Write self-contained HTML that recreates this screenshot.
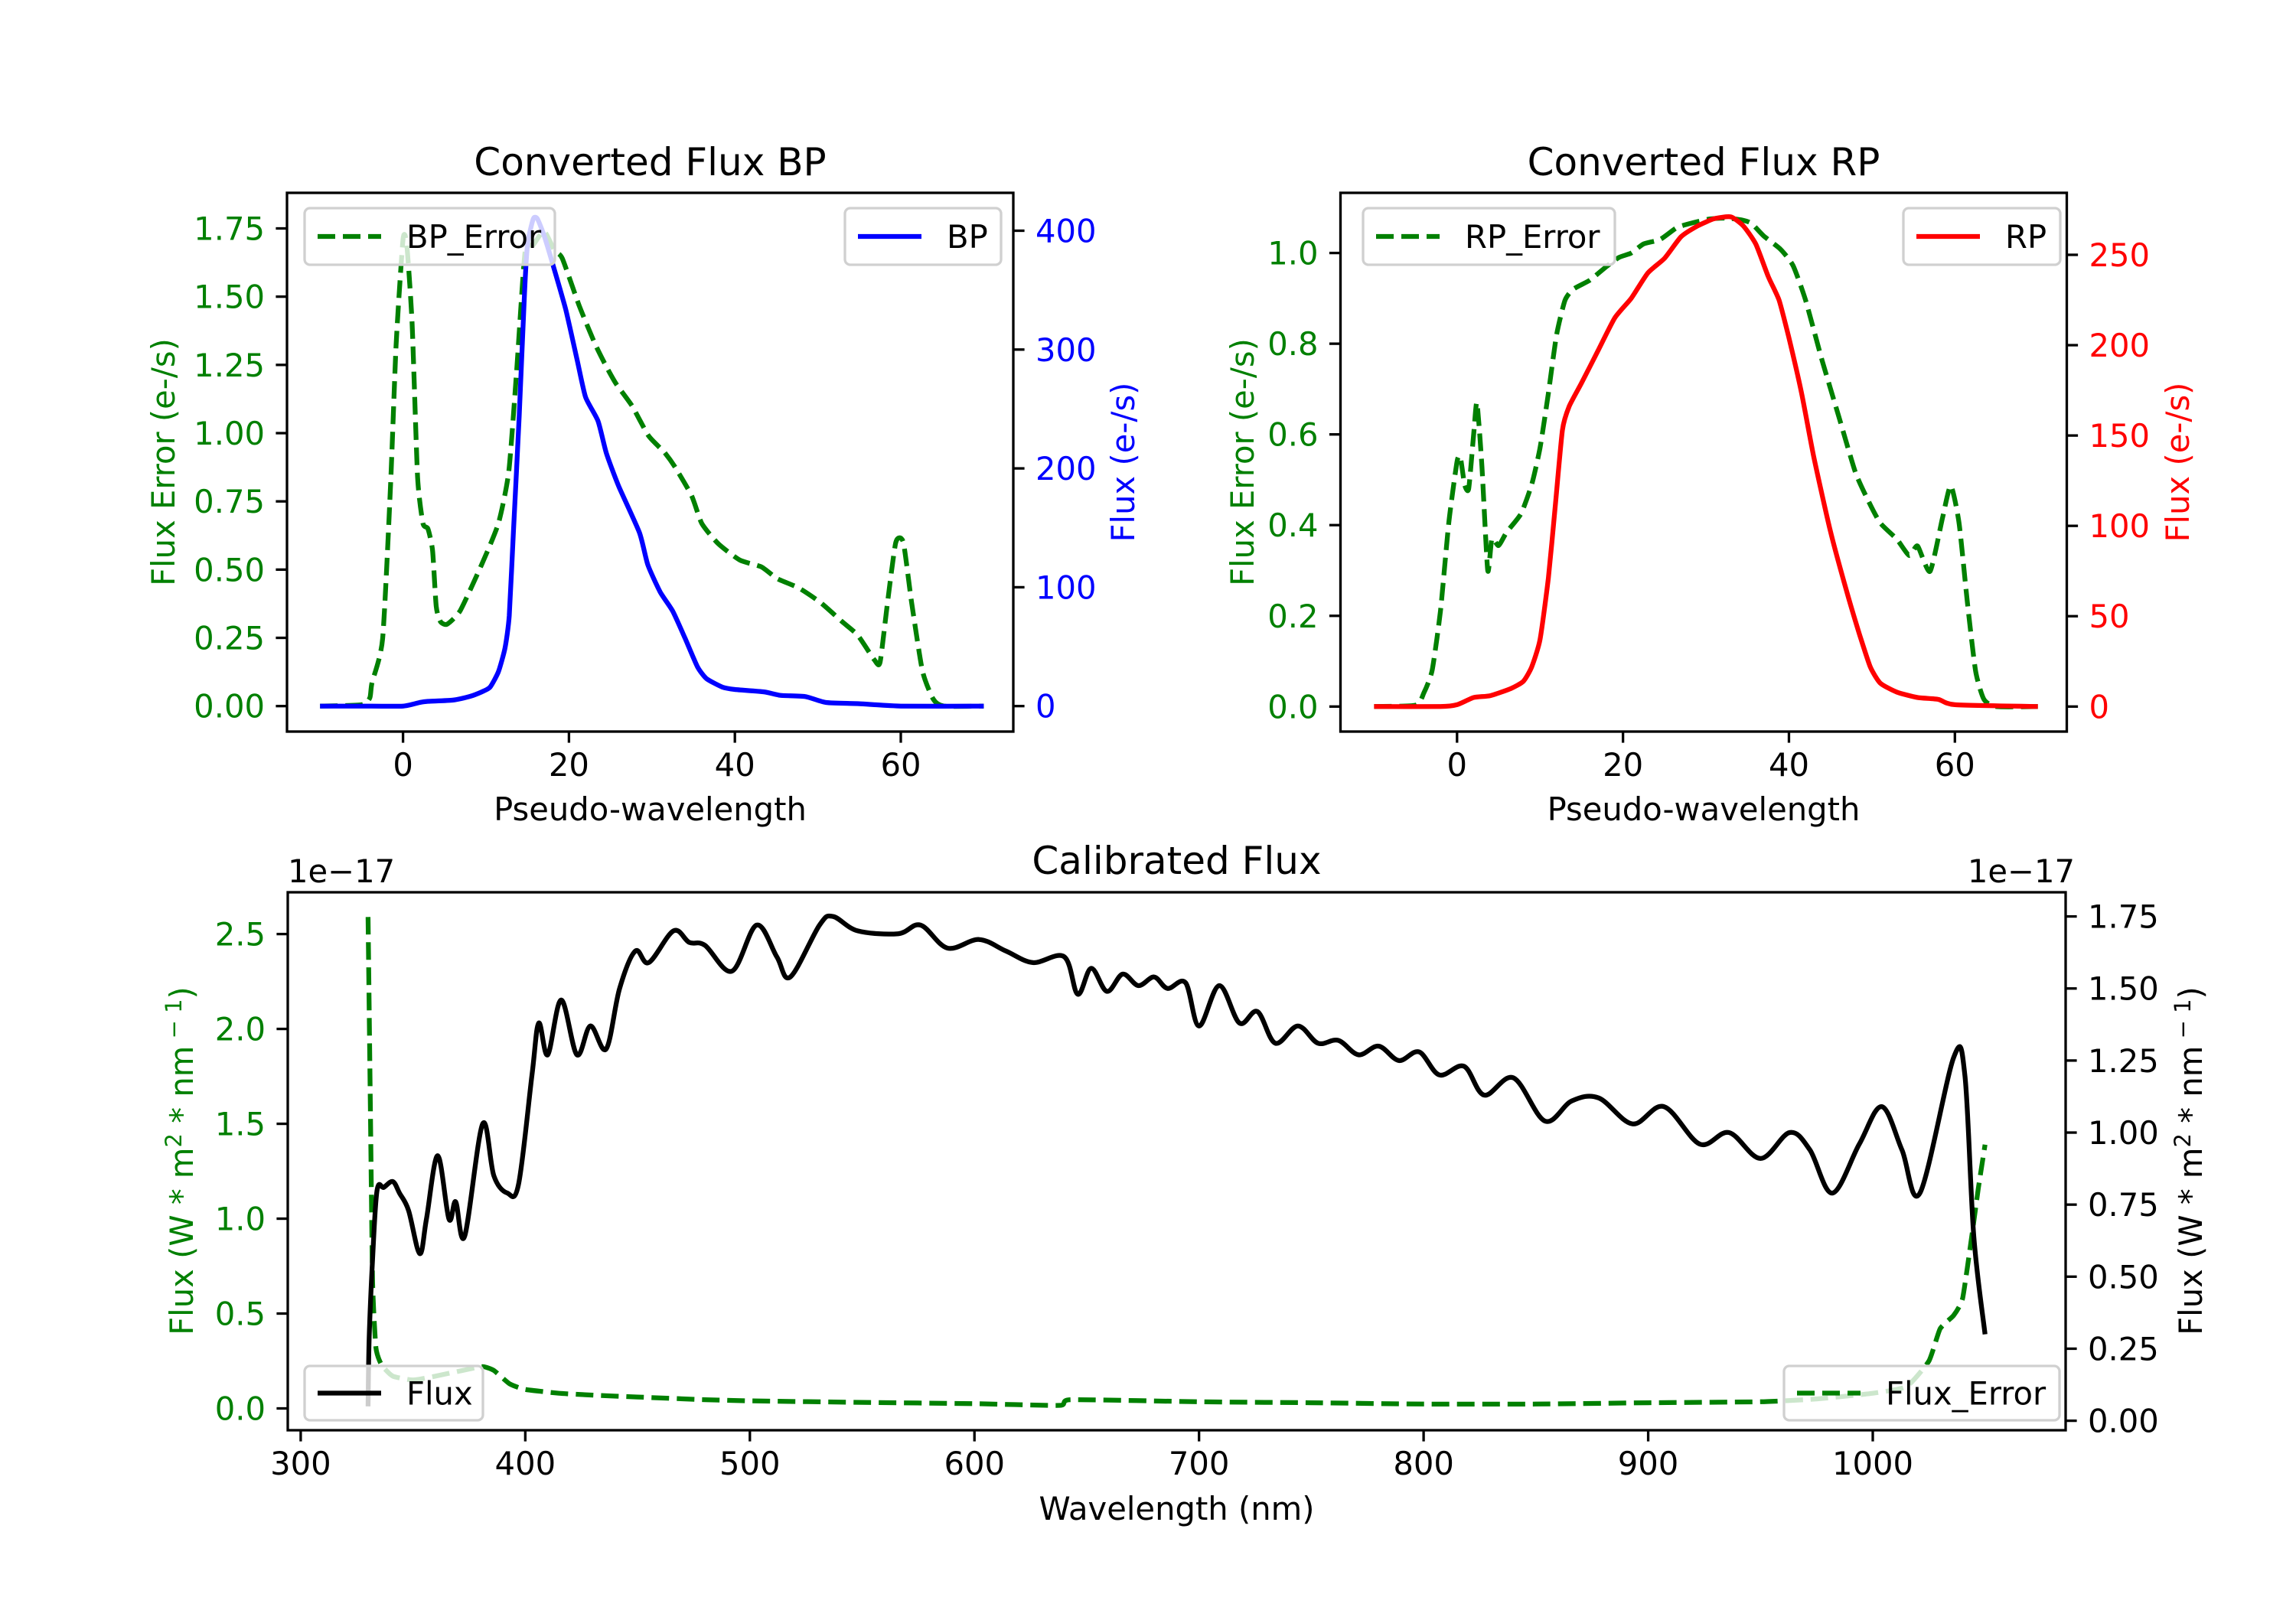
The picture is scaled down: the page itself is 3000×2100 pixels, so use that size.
<!DOCTYPE html>
<html><head><meta charset="utf-8"><style>
html,body{margin:0;padding:0;background:#fff}
svg{display:block;font-family:"DejaVu Sans","Liberation Sans",sans-serif}
</style></head><body>
<svg id="fig" width="3000" height="2100" viewBox="0 0 3000 2100" xmlns="http://www.w3.org/2000/svg">
<rect width="3000" height="2100" fill="#fff"/>
<g id="bp"></g>
<g id="rp"></g>
<g id="cal"></g>
</svg>
<script>
// ---- BP data ----
const bpErrX = [-10,-5,-4,-3.75,-2.46,-1.5,-0.84,0,0.45,1.1,1.75,2.4,3.0,3.56,4,4.5,5.3,6.9,9.5,11.5,12.75,13.7,14.7,15.7,17,18.25,19.2,21.2,23.1,24.4,25.7,27.6,29.6,31.5,32.8,34.8,36,38,40.6,43.2,45.1,47.7,50.3,52.9,54.8,56.8,57.5,58.4,59.4,60.3,61.3,62.6,63.9,65.2,70];
const bpErrY = [0,0.005,0.03,0.085,0.246,0.81,1.32,1.71,1.69,1.40,0.84,0.67,0.65,0.57,0.365,0.31,0.30,0.35,0.52,0.67,0.86,1.23,1.66,1.69,1.74,1.67,1.64,1.47,1.33,1.25,1.18,1.10,0.99,0.93,0.875,0.77,0.67,0.595,0.535,0.51,0.467,0.433,0.38,0.31,0.26,0.17,0.16,0.38,0.60,0.60,0.38,0.13,0.026,0,0];
const bpX = [-10,-5,0,2,3,6,8,9.5,10.5,11.5,12.3,12.8,13.3,14,14.6,15,15.7,16.2,17,18,19.6,21,22,23.5,24.5,26,28.5,29.5,31,32.5,34,35.5,36.6,38.5,40,43.5,45.5,48.5,51,55,60,70];
const bpY = [0,0,0,3,4,5,8,12,16,29,49,76,146,244,341,388,410,410,396,373,334,291,260,240,213,185,146,119,96,80,57,33,23,16,14,12,9,8,3,2,0,0];
// ---- RP data ----
const rpErrX = [-10,-5,-4,-3,-2,-1,0,0.4,0.9,1.4,2,2.4,3,3.7,4.2,5,6,7.7,9,10,11,12,13,14,16,18,19.5,21,22.5,24.5,26.5,28.5,30.5,32.5,34.5,35.5,37,39,40.5,42,44,46,48,49.5,51,53,54.5,55.5,57,58.5,59.5,60.5,61.5,62.5,63.5,65,70];
const rpErrY = [0,0.003,0.03,0.08,0.21,0.405,0.54,0.55,0.49,0.48,0.60,0.67,0.53,0.30,0.37,0.355,0.385,0.425,0.49,0.57,0.69,0.82,0.895,0.92,0.94,0.97,0.99,1.0,1.02,1.03,1.056,1.067,1.075,1.077,1.072,1.065,1.037,1.008,0.972,0.896,0.763,0.64,0.517,0.456,0.405,0.369,0.333,0.354,0.298,0.415,0.487,0.405,0.23,0.078,0.016,0,0];
const rpX = [-10,-2,0,2,4,6.5,8,9,10,11,11.8,12.7,13.5,15,17,19,21,23,25,27,29,31,33,34.5,36,37.5,38.8,40,41.5,43,45,47,48.5,49.8,51,53,55.5,58,60,70];
const rpY = [0,0,1,5,6,10,14,22,37,71,109,153,166,179,197,215,226,240,248,260,266,270,271,266,256,238,225,204,174,138,97,63,40,22,13,8,5,4,1,0];
// ---- Calibrated data (x1e-17) ----
const flX = [330,330.5,332,334,337,341,344,348,353,356,361,366,369,373,381,386,392,397,403,406,410,416,423,429,436,442,449,455,466,473,480,492,503,512,518,531,537,548,566,576,588,602,614,626,640,646,652,659,666,673,680,686,694,700,709,718,726,734,744,753,762,771,780,789,798,807,818,827,840,854,866,878,893,907,923,936,950,963,972,982,994,1004,1013,1021,1036,1041,1045,1050];
const flY = [0.05,0.29,0.56,0.80,0.81,0.83,0.79,0.73,0.58,0.70,0.92,0.70,0.76,0.64,1.03,0.85,0.79,0.82,1.20,1.38,1.27,1.46,1.27,1.37,1.29,1.50,1.63,1.59,1.70,1.66,1.65,1.56,1.72,1.61,1.54,1.72,1.75,1.70,1.69,1.72,1.64,1.67,1.63,1.59,1.61,1.48,1.57,1.49,1.55,1.51,1.54,1.50,1.52,1.37,1.51,1.38,1.42,1.31,1.37,1.31,1.32,1.27,1.30,1.25,1.28,1.20,1.23,1.13,1.19,1.04,1.11,1.12,1.03,1.09,0.96,1.00,0.91,1.00,0.94,0.79,0.96,1.09,0.94,0.79,1.26,1.20,0.64,0.30];
const feX = [330,331,332,333.5,336,341,350,360,372,381,386,393,400,415,430,450,480,500,550,600,638,643,700,750,800,850,900,950,975,1000,1015,1025,1030,1036,1040,1044,1047,1050];
const feY = [2.59,1.60,0.67,0.32,0.23,0.17,0.15,0.17,0.20,0.22,0.20,0.13,0.10,0.08,0.07,0.06,0.046,0.04,0.032,0.025,0.016,0.046,0.035,0.03,0.023,0.023,0.03,0.035,0.05,0.08,0.115,0.25,0.42,0.49,0.58,0.90,1.16,1.39];
// ---- tick labels ----
const pwTicks = [0,20,40,60];
const bpErrTicks = ["0.00","0.25","0.50","0.75","1.00","1.25","1.50","1.75"];
const bpTicks = [0,100,200,300,400];
const rpErrTicks = ["0.0","0.2","0.4","0.6","0.8","1.0"];
const rpTicks = [0,50,100,150,200,250];
const wlTicks = [300,400,500,600,700,800,900,1000];
const feTicks = ["0.0","0.5","1.0","1.5","2.0","2.5"];
const flTicks = ["0.00","0.25","0.50","0.75","1.00","1.25","1.50","1.75"];

const NS="http://www.w3.org/2000/svg";
function mk(parent,tag,attrs,text){const e=document.createElementNS(NS,tag);for(const k in attrs)e.setAttribute(k,attrs[k]);if(text!==undefined)e.textContent=text;parent.appendChild(e);return e;}
function lin(d0,d1,p0,p1){return v=>p0+(v-d0)*(p1-p0)/(d1-d0);}
const FS=41.7, TL=14.6, LW=6.25;
function pathD(xs,ys,sx,sy,smooth){
  const P=xs.map((x,i)=>[sx(x),sy(ys[i])]);
  let d='M'+P[0][0].toFixed(1)+','+P[0][1].toFixed(1);
  for(let i=0;i<P.length-1;i++){
    const p0=P[Math.max(0,i-1)],p1=P[i],p2=P[i+1],p3=P[Math.min(P.length-1,i+2)];
    if(!smooth){d+='L'+p2[0].toFixed(1)+','+p2[1].toFixed(1);continue;}
    const k=smooth/6;
    const c1=[p1[0]+(p2[0]-p0[0])*k,p1[1]+(p2[1]-p0[1])*k];
    const c2=[p2[0]-(p3[0]-p1[0])*k,p2[1]-(p3[1]-p1[1])*k];
    d+='C'+c1[0].toFixed(1)+','+c1[1].toFixed(1)+' '+c2[0].toFixed(1)+','+c2[1].toFixed(1)+' '+p2[0].toFixed(1)+','+p2[1].toFixed(1);
  }
  return d;
}

function frame(g,L,R,T,B){
  const r=mk(g,'rect',{x:L,y:T,width:R-L,height:B-T,fill:'none',stroke:'#000','stroke-width':3.3});
  
  
}
function xTicks(g,vals,labels,sx,B,base){
  vals.forEach((v,i)=>{
    const x=sx(v);
    const t=mk(g,'line',{x1:x,x2:x,y1:B,y2:B+TL,stroke:'#000','stroke-width':3.3});
    
    
    const l=mk(g,'text',{x:x,y:base,'font-size':FS,'text-anchor':'middle',fill:'#000'},labels[i]);
    
    
  });
}
function yTicks(g,labels,sy,X,side,color){
  labels.forEach(lab=>{
    const y=sy(parseFloat(lab));
    const x2=side<0?X-TL:X+TL;
    const t=mk(g,'line',{x1:X,x2:x2,y1:y,y2:y,stroke:'#000','stroke-width':3.3});
    
    
    const l=mk(g,'text',{x:side<0?X-29:X+29,y:y+15,'font-size':FS,'text-anchor':side<0?'end':'start',fill:color},String(lab));
    
    
  });
}
function series(g,xs,ys,sx,sy,color,dashed,name,smooth){
  const a={d:pathD(xs,ys,sx,sy,smooth),fill:'none',stroke:color,'stroke-width':LW,'stroke-linejoin':'round'};
  if(dashed)a['stroke-dasharray']='23,10';
  const p=mk(g,'path',a);
  
  
}
function legend(g,x0,x1,y0,y1,color,dashed,label,name){
  const r=mk(g,'rect',{x:x0,y:y0,width:x1-x0,height:y1-y0,rx:7,fill:'#fff','fill-opacity':0.8,stroke:'#d0d0d0','stroke-width':3.3});
  
  
  const ym=(y0+y1)/2;
  const a={x1:x0+17,x2:x0+100,y1:ym,y2:ym,stroke:color,'stroke-width':LW};
  if(dashed)a['stroke-dasharray']='23,10';
  const l=mk(g,'line',a);
  
  
  const t=mk(g,'text',{x:x0+133,y:ym+15,'font-size':FS,fill:'#000'},label);
  
  
}
function txt(g,x,y,s,attrs,name){
  const a=Object.assign({x:x,y:y,'font-size':FS,'text-anchor':'middle',fill:'#000'},attrs||{});
  const t=mk(g,'text',a,s);
  
  
  return t;
}
function rotLabel(g,x,y,s,color,name){
  return txt(g,0,0,s,{fill:color,transform:`translate(${x},${y}) rotate(-90)`},name);
}

// ---- BP panel ----
(function(){
  const g=document.getElementById('bp');
  const L=375,R=1324,T=252,B=956;
  const sx=lin(0,60,526.6,1177);
  const syL=lin(0,1.75,922.7,298.5);
  const syR=lin(0,400,922.7,301.5);
  series(g,bpErrX,bpErrY,sx,syL,'#008000',true,'bp-error-line',0.6);
  series(g,bpX,bpY,sx,syR,'#0000ff',false,'bp-line',0.6);
  frame(g,L,R,T,B);
  xTicks(g,pwTicks,pwTicks.map(String),sx,B,1014);
  yTicks(g,bpErrTicks,syL,L,-1,'#008000');
  yTicks(g,bpTicks.map(String),syR,R,1,'#0000ff');
  legend(g,398,725,272,346,'#008000',true,'BP_Error','bp-error-legend');
  legend(g,1104,1308,272,346,'#0000ff',false,'BP','bp-legend');
  txt(g,(L+R)/2,229,'Converted Flux BP',{'font-size':50},'bp-title');
  txt(g,(L+R)/2,1072,'Pseudo-wavelength',{},'bp-x-axis-title');
  rotLabel(g,228,604,'Flux Error (e-/s)','#008000','bp-left-y-axis-title');
  rotLabel(g,1482,604,'Flux (e-/s)','#0000ff','bp-right-y-axis-title');
})();

// ---- RP panel ----
(function(){
  const g=document.getElementById('rp');
  const L=1751.5,R=2700.5,T=252,B=956;
  const sx=lin(0,60,1903.8,2554.3);
  const syL=lin(0,1.0,923.3,330.6);
  const syR=lin(0,250,923.3,333);
  series(g,rpErrX,rpErrY,sx,syL,'#008000',true,'rp-error-line',0.6);
  series(g,rpX,rpY,sx,syR,'#ff0000',false,'rp-line',0.6);
  frame(g,L,R,T,B);
  xTicks(g,pwTicks,pwTicks.map(String),sx,B,1014);
  yTicks(g,rpErrTicks,syL,L,-1,'#008000');
  yTicks(g,rpTicks.map(String),syR,R,1,'#ff0000');
  legend(g,1781,2110,272,346,'#008000',true,'RP_Error','rp-error-legend');
  legend(g,2487,2692,272,346,'#ff0000',false,'RP','rp-legend');
  txt(g,(L+R)/2,229,'Converted Flux RP',{'font-size':50},'rp-title');
  txt(g,(L+R)/2,1072,'Pseudo-wavelength',{},'rp-x-axis-title');
  rotLabel(g,1638,604,'Flux Error (e-/s)','#008000','rp-left-y-axis-title');
  rotLabel(g,2860,604,'Flux (e-/s)','#ff0000','rp-right-y-axis-title');
})();

// ---- Calibrated panel ----
(function(){
  const g=document.getElementById('cal');
  const L=376,R=2699,T=1166,B=1869;
  const sx=lin(300,1000,392.9,2447);
  const syL=lin(0,2.5,1840.5,1220.6);
  const syR=lin(0,1.75,1856.6,1197.6);
  series(g,feX,feY,sx,syL,'#008000',true,'flux-error-line',0.5);
  series(g,flX,flY,sx,syR,'#000000',false,'flux-line',1);
  frame(g,L,R,T,B);
  xTicks(g,wlTicks,wlTicks.map(String),sx,B,1927);
  yTicks(g,feTicks,syL,L,-1,'#008000');
  yTicks(g,flTicks,syR,R,1,'#000000');
  legend(g,398,631,1785,1856,'#000000',false,'Flux','flux-legend');
  legend(g,2331,2691,1785,1856,'#008000',true,'Flux_Error','flux-error-legend');
  txt(g,(L+R)/2,1142,'Calibrated Flux',{'font-size':50},'cal-title');
  txt(g,(L+R)/2,1986,'Wavelength (nm)',{},'cal-x-axis-title');
  txt(g,L,1153,'1e\u221217',{'text-anchor':'start'},'left-offset-text');
  txt(g,2711,1153,'1e\u221217',{'text-anchor':'end'},'right-offset-text');
  const t1=rotLabel(g,252,1517,'','#008000','cal-left-y-axis-title');
  const t2=rotLabel(g,2877,1517,'','#000000','cal-right-y-axis-title');
  [t1,t2].forEach(t=>{
    mk(t,'tspan',{},'Flux (W * m');
    mk(t,'tspan',{dy:-15,'font-size':29},'2');
    mk(t,'tspan',{dy:15},' * nm');
    mk(t,'tspan',{dy:-15,'font-size':29},' \u2212 1');
    mk(t,'tspan',{dy:15},')');
  });
})();
</script>
</body></html>
